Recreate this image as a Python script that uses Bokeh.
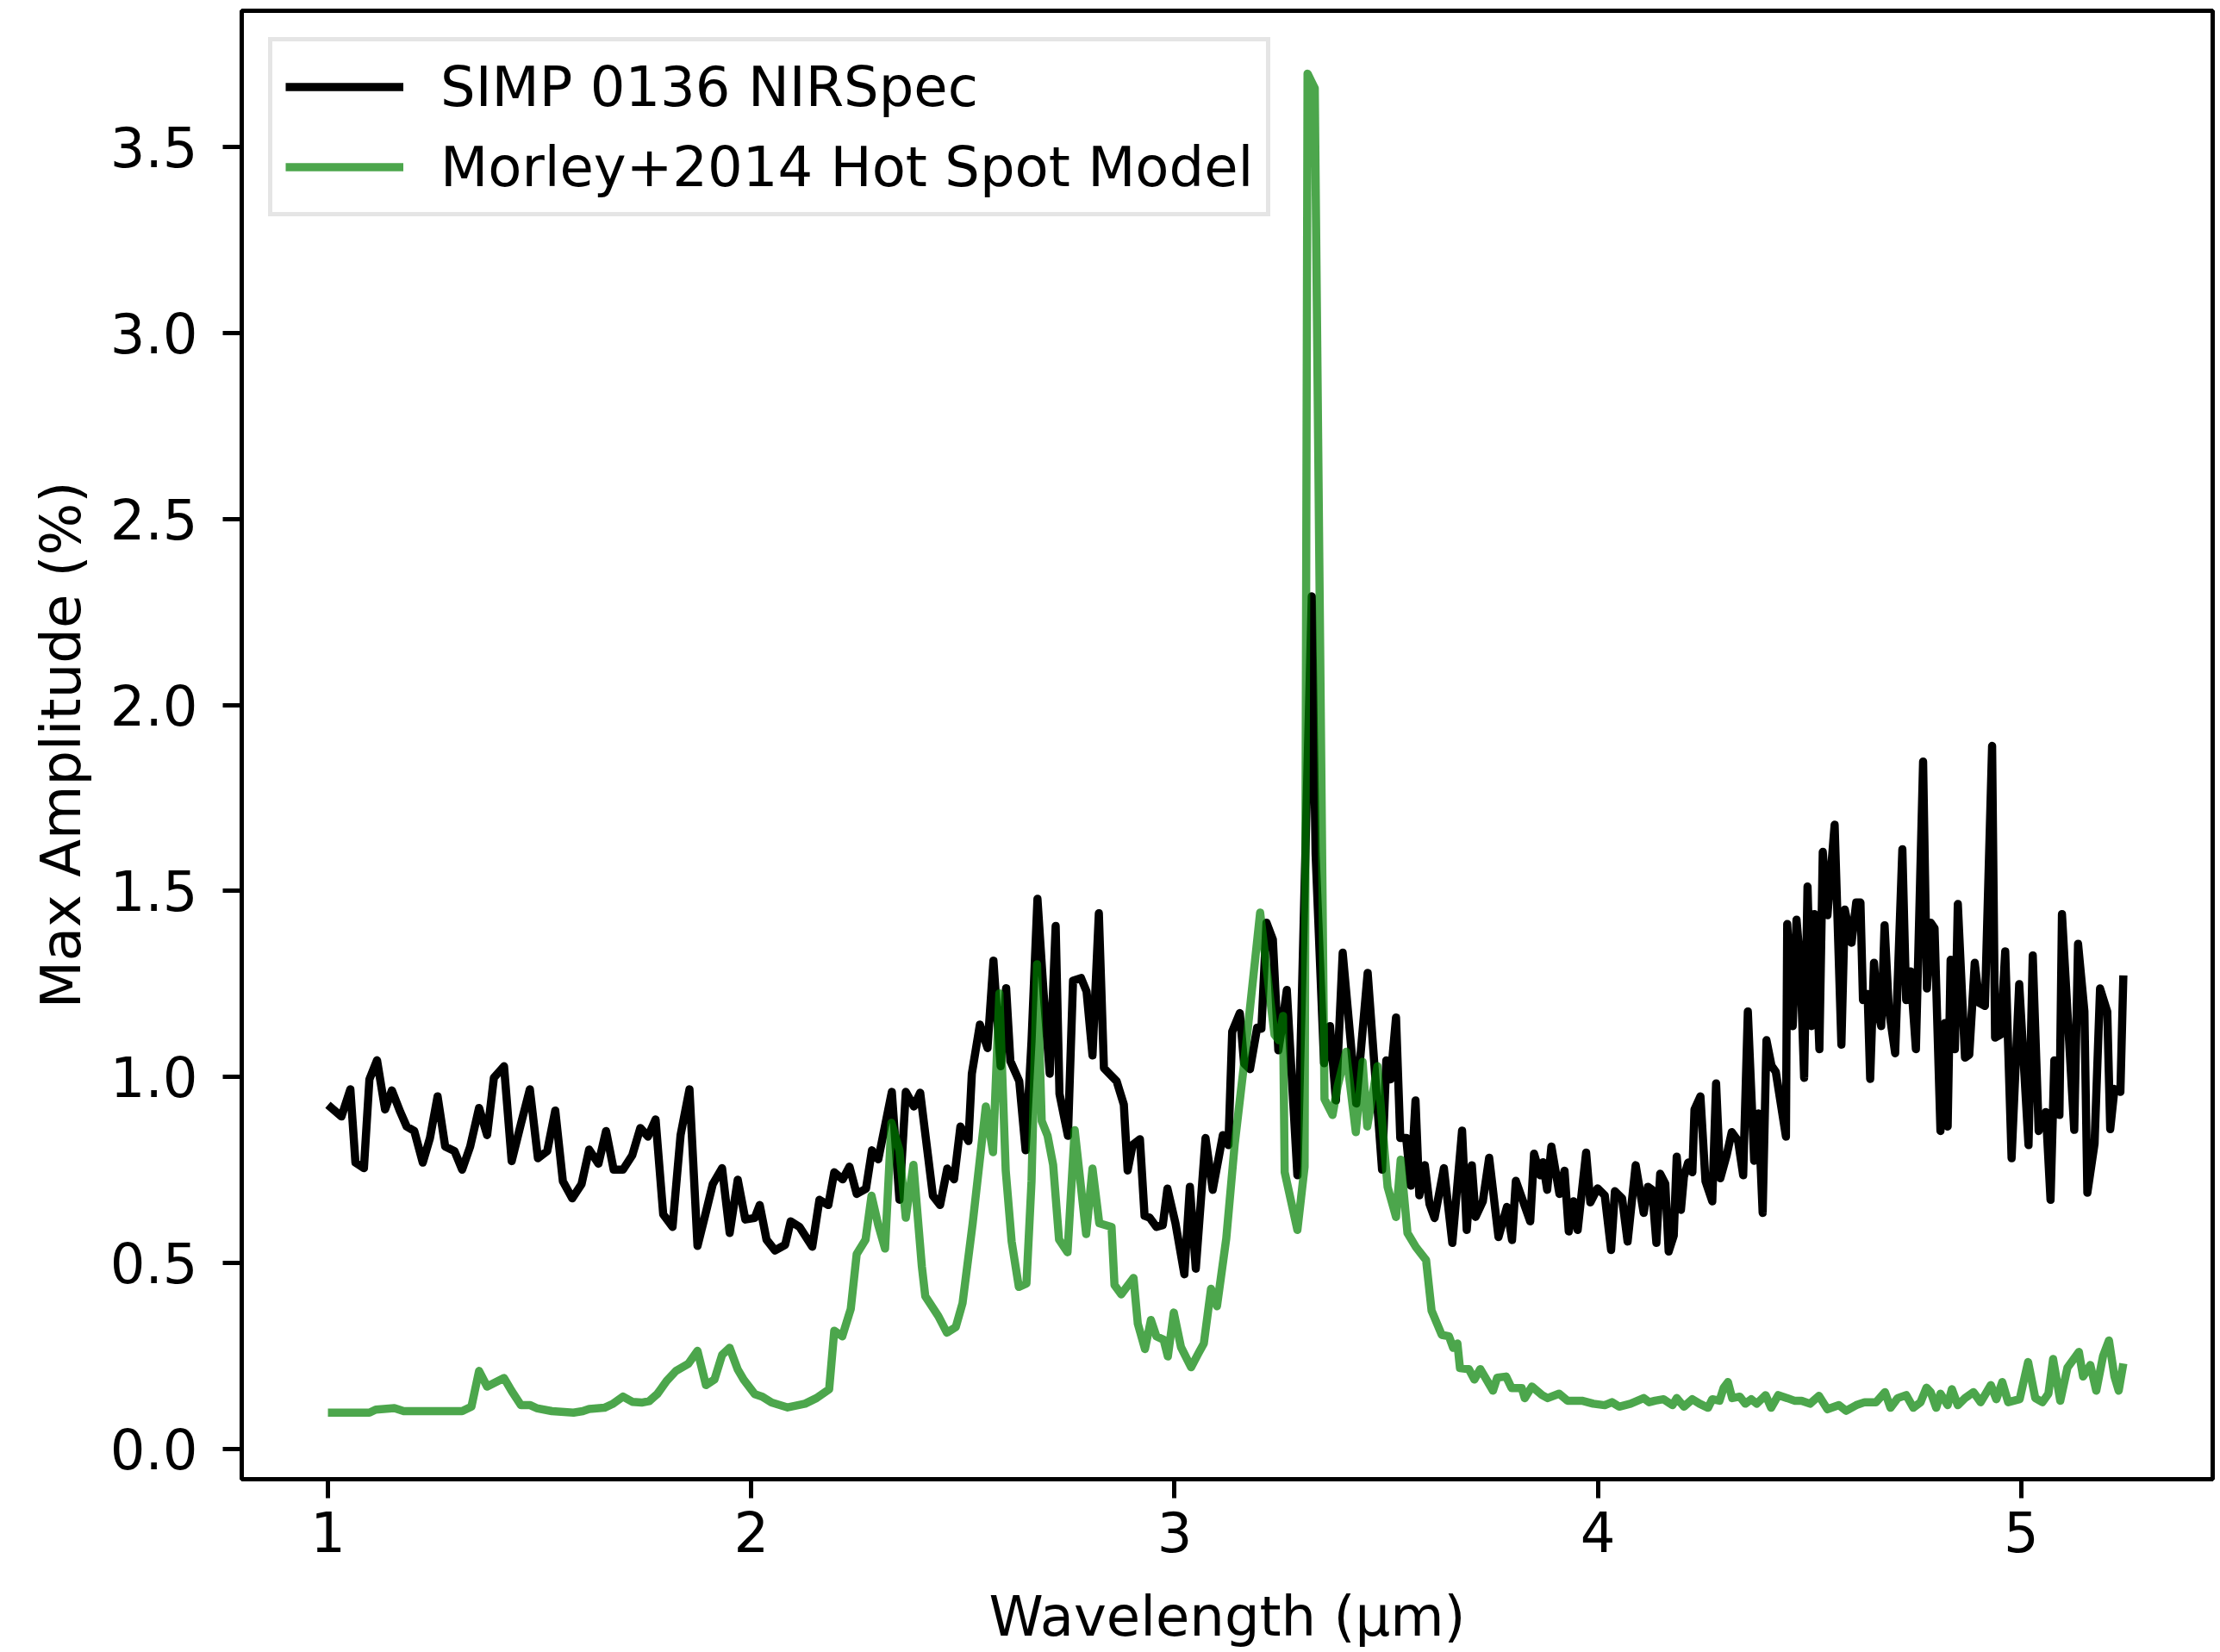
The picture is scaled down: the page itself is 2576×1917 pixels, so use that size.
from bokeh.plotting import figure
from bokeh.models import Range1d, FixedTicker, Legend, LegendItem, PrintfTickFormatter
from bokeh.embed import file_html
from bokeh.resources import INLINE

# ---- data ----
black_wl = [
    1.000, 1.032, 1.053, 1.065, 1.085, 1.098, 1.116, 1.135, 1.151, 1.171, 1.186, 1.204, 1.224, 1.241,
    1.259, 1.277, 1.299, 1.317, 1.336, 1.357, 1.376, 1.392, 1.416, 1.434, 1.456, 1.477, 1.496, 1.518,
    1.537, 1.555, 1.577, 1.599, 1.617, 1.639, 1.657, 1.675, 1.697, 1.719, 1.738, 1.756, 1.774, 1.792,
    1.814, 1.833, 1.854, 1.873, 1.891, 1.909, 1.931, 1.949, 1.968, 1.986, 2.008,
    2.020, 2.036, 2.056, 2.080, 2.093, 2.114, 2.144, 2.161, 2.182, 2.196, 2.216, 2.232, 2.249, 2.271,
    2.285, 2.300, 2.332, 2.350, 2.365, 2.384, 2.399, 2.419, 2.429, 2.446, 2.463, 2.479, 2.494, 2.513,
    2.521, 2.540, 2.558, 2.572, 2.589, 2.602, 2.612, 2.633, 2.648, 2.662, 2.676, 2.690, 2.705, 2.719,
    2.728, 2.748, 2.760, 2.779, 2.792, 2.806, 2.821, 2.833, 2.863, 2.880, 2.889, 2.901, 2.918, 2.929,
    2.941, 2.957, 2.972, 2.983, 3.002, 3.023, 3.036, 3.050,
    3.073, 3.090, 3.114, 3.127, 3.136, 3.154, 3.164, 3.178, 3.195, 3.205, 3.217, 3.232, 3.245, 3.253,
    3.265, 3.290, 3.324, 3.333, 3.353, 3.367, 3.381, 3.397, 3.429, 3.456, 3.490, 3.500, 3.510, 3.523,
    3.533, 3.547, 3.558, 3.569, 3.578, 3.591, 3.602, 3.614, 3.636, 3.656, 3.679, 3.690, 3.702, 3.711,
    3.728, 3.743, 3.765, 3.785, 3.797, 3.806, 3.840, 3.849, 3.864, 3.870, 3.880, 3.890, 3.909, 3.921,
    3.931, 3.942, 3.952, 3.972, 3.982, 3.999, 4.016, 4.031, 4.040, 4.057, 4.070, 4.089,
    4.108, 4.118, 4.128, 4.138, 4.147, 4.159, 4.167, 4.179, 4.186, 4.196, 4.203, 4.213, 4.223, 4.228,
    4.242, 4.254, 4.270, 4.279, 4.289, 4.304, 4.316, 4.331, 4.343, 4.354, 4.369, 4.372, 4.379, 4.389,
    4.398, 4.410, 4.420, 4.444,
    4.447, 4.460, 4.469, 4.478, 4.487, 4.495, 4.504, 4.511, 4.523, 4.531, 4.542, 4.559, 4.575, 4.583,
    4.599, 4.610, 4.620, 4.626, 4.637, 4.643, 4.652, 4.660, 4.669, 4.677, 4.687, 4.702, 4.719, 4.728,
    4.738, 4.751, 4.768, 4.777, 4.786, 4.795, 4.809, 4.819, 4.826, 4.833, 4.843, 4.850, 4.867, 4.877,
    4.890, 4.901, 4.914, 4.931, 4.938, 4.951, 4.962, 4.977, 4.995, 5.017, 5.027, 5.041, 5.058, 5.069,
    5.078, 5.090, 5.096, 5.112, 5.125, 5.134, 5.149, 5.156, 5.173, 5.186, 5.203, 5.210, 5.220, 5.234,
    5.241,
]
black_amp = [
    0.925, 0.894, 0.967, 0.770, 0.755, 0.994, 1.045, 0.913, 0.964, 0.906, 0.867, 0.855, 0.770, 0.836,
    0.948, 0.813, 0.801, 0.751, 0.813, 0.917, 0.844, 0.998, 1.029, 0.774, 0.875, 0.967, 0.782, 0.801,
    0.910, 0.720, 0.674, 0.712, 0.805, 0.767, 0.855, 0.751, 0.751, 0.790, 0.863, 0.840, 0.886, 0.631,
    0.597, 0.844, 0.967, 0.546, 0.628, 0.712, 0.755, 0.581, 0.724, 0.617, 0.621,
    0.656, 0.563, 0.534, 0.549, 0.612, 0.597, 0.544, 0.670, 0.656, 0.744, 0.725, 0.759, 0.686, 0.700,
    0.803, 0.779, 0.960, 0.670, 0.960, 0.921, 0.958, 0.774, 0.681, 0.656, 0.754, 0.725, 0.867, 0.828,
    1.009, 1.141, 1.078, 1.313, 1.029, 1.239, 1.043, 0.989, 0.803, 1.097, 1.479, 1.234, 1.009, 1.406,
    0.955, 0.842, 1.259, 1.266, 1.230, 1.058, 1.440, 1.024, 0.989, 0.926, 0.749, 0.818, 0.833, 0.627,
    0.622, 0.597, 0.602, 0.700, 0.607, 0.470, 0.705, 0.485,
    0.836, 0.697, 0.844, 0.817, 1.122, 1.172, 1.037, 1.021, 1.133, 1.130, 1.415, 1.370, 1.072, 1.130,
    1.234, 0.736, 2.292, 1.600, 1.037, 1.137, 0.937, 1.334, 0.929, 1.280, 0.751, 1.045, 0.994, 1.160,
    0.836, 0.836, 0.708, 0.937, 0.682, 0.763, 0.659, 0.621, 0.755, 0.554, 0.856, 0.589, 0.763, 0.624,
    0.666, 0.783, 0.570, 0.651, 0.562, 0.721, 0.612, 0.794, 0.736, 0.771, 0.697, 0.813, 0.686, 0.748,
    0.585, 0.666, 0.589, 0.797, 0.663, 0.701, 0.682, 0.535, 0.693, 0.674, 0.558, 0.763,
    0.635, 0.705, 0.697, 0.554, 0.740, 0.713, 0.531, 0.574, 0.786, 0.643, 0.732, 0.770, 0.744, 0.913,
    0.948, 0.720, 0.666, 0.983, 0.728, 0.790, 0.852, 0.828, 0.736, 1.176, 0.775, 0.898, 0.902, 0.635,
    1.099, 1.030, 1.014, 0.840,
    1.411, 1.137, 1.423, 1.300, 0.998, 1.512, 1.137, 1.438, 1.075, 1.605, 1.435, 1.678, 1.087, 1.450,
    1.361, 1.469, 1.469, 1.207, 1.223, 0.995, 1.307, 1.184, 1.137, 1.408, 1.184, 1.064, 1.612, 1.207,
    1.284, 1.075, 1.848, 1.238, 1.415, 1.400, 0.855, 1.145, 0.867, 1.315, 1.075, 1.465, 1.052, 1.060,
    1.307, 1.199, 1.191, 1.890, 1.106, 1.114, 1.338, 0.782, 1.250, 0.817, 1.327, 0.855, 0.906, 0.670,
    1.045, 0.898, 1.438, 1.114, 0.858, 1.358, 1.177, 0.689, 0.821, 1.238, 1.176, 0.860, 0.968, 0.960,
    1.273,
]

model_wl = [
    1.000, 1.098, 1.113, 1.157, 1.179, 1.317, 1.339, 1.357, 1.376, 1.416, 1.434, 1.456, 1.478, 1.493,
    1.529, 1.580, 1.602, 1.617, 1.653, 1.672, 1.697, 1.719, 1.741, 1.759, 1.778, 1.800, 1.822, 1.851,
    1.873, 1.893, 1.913, 1.931, 1.949, 1.968, 1.982, 2.008, 2.026, 2.048, 2.086, 2.127, 2.154, 2.184,
    2.196, 2.215, 2.235, 2.249, 2.270, 2.284, 2.300, 2.316, 2.331, 2.350, 2.365, 2.383, 2.403, 2.411,
    2.442, 2.462, 2.483, 2.499, 2.523, 2.554, 2.571, 2.586, 2.601, 2.615, 2.632, 2.650, 2.662, 2.675,
    2.686, 2.700, 2.713, 2.727, 2.747, 2.764, 2.791, 2.806, 2.822, 2.851, 2.858, 2.874, 2.903, 2.913,
    2.930, 2.944, 2.957, 2.974, 2.984, 2.998, 3.015, 3.039, 3.056, 3.069, 3.086, 3.100, 3.122, 3.142,
    3.163, 3.202, 3.226, 3.236, 3.246, 3.256, 3.260, 3.290, 3.307, 3.314, 3.331, 3.354, 3.373, 3.385,
    3.405, 3.428, 3.444, 3.455, 3.479, 3.503, 3.523, 3.534, 3.550, 3.570, 3.594, 3.607, 3.631, 3.648,
    3.658, 3.668, 3.674, 3.695, 3.708, 3.722, 3.752, 3.762, 3.783, 3.796, 3.820, 3.827, 3.844, 3.868,
    3.881, 3.908, 3.928, 3.962, 3.989, 4.016, 4.033, 4.050, 4.077, 4.108, 4.121, 4.135, 4.155, 4.176,
    4.186, 4.203, 4.223, 4.240, 4.260, 4.270, 4.287, 4.297, 4.307, 4.317, 4.335, 4.348, 4.362, 4.375,
    4.396, 4.409, 4.426, 4.447, 4.464, 4.481, 4.501, 4.522, 4.542, 4.569, 4.586, 4.610, 4.630, 4.657,
    4.678, 4.691, 4.708, 4.728, 4.745, 4.762, 4.776, 4.786, 4.799, 4.809, 4.826, 4.836, 4.850, 4.867,
    4.887, 4.904, 4.928, 4.941, 4.955, 4.969, 4.996, 5.016, 5.033, 5.050, 5.064, 5.075, 5.092, 5.109,
    5.136, 5.146, 5.163, 5.177, 5.193, 5.207, 5.220, 5.230, 5.241,
]
model_amp = [
    0.098, 0.098, 0.106, 0.110, 0.102, 0.102, 0.114, 0.210, 0.168, 0.191, 0.156, 0.118, 0.118, 0.110,
    0.102, 0.098, 0.102, 0.108, 0.111, 0.121, 0.141, 0.127, 0.125, 0.129, 0.148, 0.183, 0.210, 0.229,
    0.264, 0.172, 0.187, 0.253, 0.272, 0.214, 0.187, 0.148, 0.141, 0.125, 0.112, 0.122, 0.137, 0.161,
    0.318, 0.303, 0.377, 0.524, 0.563, 0.681, 0.602, 0.539, 0.877, 0.803, 0.622, 0.764, 0.490, 0.411,
    0.357, 0.313, 0.328, 0.392, 0.607, 0.921, 0.798, 1.225, 0.749, 0.558, 0.436, 0.445, 0.720, 1.303,
    0.882, 0.842, 0.764, 0.563, 0.529, 0.857, 0.578, 0.754, 0.607, 0.597, 0.441, 0.416, 0.460, 0.337,
    0.269, 0.347, 0.303, 0.294, 0.249, 0.367, 0.274, 0.220, 0.257, 0.284, 0.431, 0.384, 0.566, 0.821,
    1.025, 1.442, 1.207, 1.114, 1.099, 1.164, 0.744, 0.589, 0.759, 3.697, 3.658, 0.941, 0.898, 0.975,
    1.068, 0.852, 1.041, 0.867, 1.029, 0.705, 0.624, 0.778, 0.581, 0.543, 0.508, 0.372, 0.307, 0.303,
    0.272, 0.284, 0.218, 0.215, 0.187, 0.215, 0.157, 0.192, 0.195, 0.164, 0.164, 0.137, 0.168, 0.145,
    0.137, 0.149, 0.130, 0.130, 0.122, 0.118, 0.126, 0.114, 0.122, 0.137, 0.126, 0.130, 0.134, 0.118,
    0.137, 0.114, 0.134, 0.122, 0.111, 0.134, 0.130, 0.165, 0.180, 0.137, 0.141, 0.122, 0.134, 0.122,
    0.145, 0.111, 0.145, 0.137, 0.130, 0.130, 0.122, 0.143, 0.107, 0.118, 0.103, 0.118, 0.126, 0.126,
    0.153, 0.111, 0.137, 0.145, 0.111, 0.126, 0.165, 0.153, 0.111, 0.149, 0.118, 0.161, 0.118, 0.137,
    0.153, 0.126, 0.172, 0.134, 0.180, 0.126, 0.134, 0.234, 0.137, 0.126, 0.149, 0.242, 0.130, 0.219,
    0.261, 0.195, 0.226, 0.157, 0.250, 0.292, 0.195, 0.157, 0.230,
]

series_labels = ["SIMP 0136 NIRSpec", "Morley+2014 Hot Spot Model"]
x_ticks = [1, 2, 3, 4, 5]
y_ticks = [0.0, 0.5, 1.0, 1.5, 2.0, 2.5, 3.0, 3.5]
x_label = "Wavelength (μm)"
y_label = "Max Amplitude (%)"

FONT = "DejaVu Sans"
FS = "64px"

p = figure(width=2576, height=1917, output_backend="svg", toolbar_location=None,
           x_range=Range1d(0.7964, 5.452), y_range=Range1d(-0.081, 3.866),
           min_border_left=280, min_border_right=9, min_border_top=12, min_border_bottom=201)
p.background_fill_color = "white"
p.border_fill_color = "white"
p.outline_line_color = "black"
p.outline_line_width = 5
p.xgrid.visible = False
p.ygrid.visible = False

r1 = p.line(black_wl, black_amp, line_color="black", line_width=9.5, line_join="round")
r2 = p.line(model_wl, model_amp, line_color="#008000", line_alpha=0.7, line_width=9.5,
            line_join="round")

p.xaxis.ticker = FixedTicker(ticks=x_ticks)
p.yaxis.ticker = FixedTicker(ticks=y_ticks)
p.xaxis.formatter = PrintfTickFormatter(format="%d")
p.yaxis.formatter = PrintfTickFormatter(format="%.1f")
p.xaxis.axis_label = x_label
p.yaxis.axis_label = y_label

for ax in (p.xaxis, p.yaxis):
    ax.axis_line_width = 5
    ax.axis_line_color = "black"
    ax.major_tick_line_width = 5
    ax.major_tick_line_color = "black"
    ax.major_tick_out = 22
    ax.major_tick_in = 0
    ax.minor_tick_out = 0
    ax.minor_tick_in = 0
    ax.major_label_text_font = FONT
    ax.major_label_text_font_size = FS
    ax.major_label_text_color = "black"
    ax.axis_label_text_font = FONT
    ax.axis_label_text_font_size = FS
    ax.axis_label_text_font_style = "normal"
    ax.axis_label_text_color = "black"

p.xaxis.major_label_standoff = 15
p.xaxis.axis_label_standoff = 35
p.yaxis.major_label_standoff = 29
p.yaxis.axis_label_standoff = 17

legend = Legend(items=[LegendItem(label=series_labels[0], renderers=[r1]),
                       LegendItem(label=series_labels[1], renderers=[r2])],
                location="top_left", margin=31, padding=15, spacing=18,
                glyph_width=137, glyph_height=75, label_standoff=43,
                label_text_font=FONT, label_text_font_size=FS, label_text_color="black",
                border_line_color="#cccccc", border_line_width=5,
                background_fill_color="white", background_fill_alpha=0.8)
p.add_layout(legend)

open("out.html", "w").write(file_html(p, INLINE))
